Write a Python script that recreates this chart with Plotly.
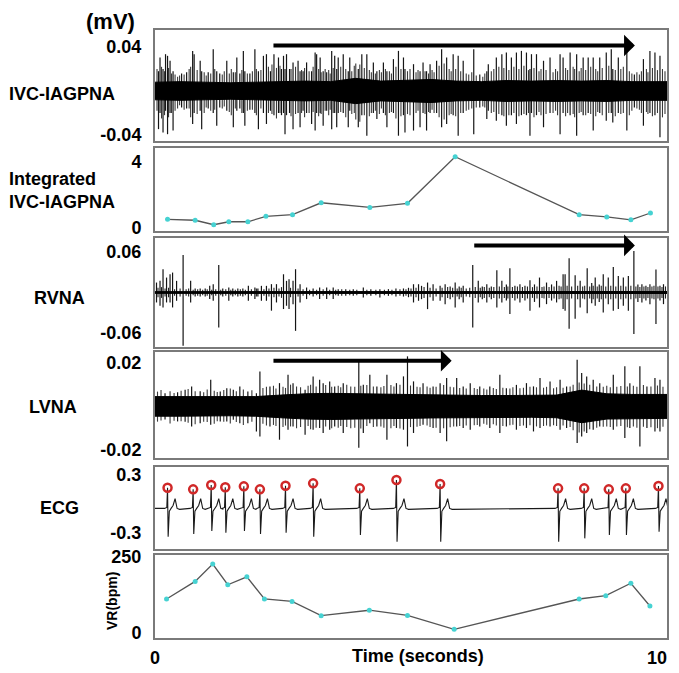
import plotly.graph_objects as go

W, H = 679, 673

# ---------------- data ----------------
# Integrated IVC-IAGPNA
integ_t = [0.25, 0.80, 1.17, 1.47, 1.85, 2.21, 2.74, 3.31, 4.28, 5.03, 5.98, 8.45, 9.00, 9.48, 9.87]
integ_v = [0.53, 0.47, 0.20, 0.38, 0.38, 0.71, 0.81, 1.53, 1.25, 1.50, 4.32, 0.81, 0.67, 0.50, 0.91]

# Ventricular rate
vr_t = [0.23, 0.80, 1.15, 1.45, 1.83, 2.18, 2.73, 3.31, 4.27, 5.03, 5.96, 8.45, 8.98, 9.48, 9.86]
vr_v = [112, 170, 227, 159, 185, 112, 104, 57, 75, 58, 12, 112, 123, 164, 89]

# ECG beats
ecg_beat_t = [0.25, 0.76, 1.12, 1.40, 1.77, 2.09, 2.60, 3.15, 4.08, 4.81, 5.68, 8.03, 8.55, 9.04, 9.38, 10.03]
ecg_r = [0.169, 0.152, 0.197, 0.173, 0.183, 0.152, 0.189, 0.214, 0.162, 0.248, 0.207, 0.162, 0.162, 0.152, 0.162, 0.186]
ecg_s = [-0.338, -0.31, -0.279, -0.297, -0.279, -0.31, -0.297, -0.338, -0.32, -0.39, -0.39, -0.39, -0.355, -0.32, -0.32, -0.286]
ecg_baseline = -0.045
ecg_shape_dt = [-0.06, -0.015, 0.0, 0.012, 0.035, 0.07, 0.11, 0.15, 0.19, 0.24]
ecg_shape_dv = [0.0, 0.01, None, None, -0.03, 0.0, 0.03, 0.10, 0.0, -0.01]

# envelope sample times for the dense "core" of the nerve traces
core_t = [0.0, 0.5, 1.0, 1.5, 2.0, 2.5, 3.0, 3.5, 4.0, 4.5, 5.0, 5.5, 6.0, 6.5, 7.0, 7.5, 8.0, 8.5, 9.0, 9.5, 10.2]

# IVC-IAGPNA
ivc_core = [0.008, 0.0085, 0.008, 0.0075, 0.008, 0.0085, 0.009, 0.0085, 0.0115, 0.009, 0.010, 0.0105, 0.009,
            0.0085, 0.0095, 0.009, 0.0095, 0.009, 0.0095, 0.0085, 0.0085]
ivc_spike_t = [0.07, 0.10, 0.16, 0.21, 0.25, 0.30, 0.36, 0.53, 0.63, 0.75, 0.78, 0.90, 0.93, 1.06, 1.16, 1.23, 1.29,
               1.43, 1.56, 1.63, 1.69, 1.76, 1.79, 1.89, 1.99, 2.06, 2.16, 2.22, 2.30, 2.37, 2.46, 2.52, 2.56, 2.59,
               2.62, 2.68, 2.75, 2.85, 2.89, 2.95, 3.02, 3.12, 3.19, 3.22, 3.29, 3.35, 3.42, 3.52, 3.58, 3.62, 3.65,
               3.75, 3.85, 3.88, 4.05, 4.12, 4.22, 4.35, 4.42, 4.55, 4.62, 4.75, 4.85, 4.95, 4.98, 5.15, 5.28, 5.34,
               5.41, 5.48, 5.61, 5.71, 5.81, 5.94, 6.04, 6.14, 6.35, 6.47, 6.61, 6.64, 6.80, 6.91, 7.00, 7.10, 7.20,
               7.30, 7.40, 7.47, 7.50, 7.60, 7.74, 7.87, 8.07, 8.13, 8.27, 8.40, 8.53, 8.63, 8.73, 8.86, 8.99, 9.09,
               9.12, 9.23, 9.40, 9.55, 9.73, 9.86, 9.96, 10.06]
ivc_spike_hi = [0.018, 0.0305, 0.020, 0.0335, 0.032, 0.0275, 0.018, 0.016, 0.017, 0.0365, 0.0335, 0.0275, 0.018, 0.017,
                0.038, 0.018, 0.016, 0.0275, 0.017, 0.0305, 0.016, 0.0365, 0.018, 0.016, 0.038, 0.018, 0.032, 0.0335,
                0.018, 0.0335, 0.0305, 0.020, 0.032, 0.020, 0.0335, 0.020, 0.026, 0.0275, 0.018, 0.018, 0.026, 0.018,
                0.035, 0.0335, 0.0305, 0.018, 0.017, 0.0365, 0.032, 0.020, 0.0305,
                0.0335, 0.018, 0.0305, 0.020, 0.0335, 0.0335, 0.026, 0.018, 0.026, 0.018, 0.029, 0.0365, 0.0305, 0.020,
                0.0244, 0.018, 0.026, 0.018, 0.0244, 0.0275, 0.038, 0.0305, 0.0335, 0.032, 0.0275, 0.038, 0.015, 0.018,
                0.0244, 0.0305, 0.0335, 0.035, 0.0305, 0.035, 0.0365, 0.035, 0.020, 0.0335, 0.0335, 0.0275, 0.0305,
                0.0335, 0.0305, 0.035, 0.0335, 0.0305, 0.0305, 0.0305, 0.0305, 0.035, 0.038, 0.020, 0.0305, 0.0365,
                0.015, 0.029, 0.0365, 0.035, 0.032]
ivc_spike_lo = [-0.0347, -0.020, -0.0377, -0.018, -0.0393, -0.020, -0.036, -0.015, -0.016, -0.030, -0.020, -0.018,
                -0.0347, -0.016, -0.020, -0.0316, -0.015, -0.018, -0.033, -0.018, -0.016, -0.020, -0.0316, -0.017,
                -0.020, -0.0347, -0.020, -0.030, -0.018, -0.022, -0.020, -0.022, -0.020, -0.0393, -0.022, -0.020,
                -0.0347, -0.020, -0.033, -0.018, -0.020, -0.030, -0.036, -0.020, -0.020, -0.0316, -0.018, -0.0347,
                -0.020, -0.033, -0.020,
                -0.020, -0.033, -0.018, -0.033, -0.022, -0.0407, -0.020, -0.0255, -0.020, -0.033, -0.020, -0.0407,
                -0.022, -0.0377, -0.036, -0.033, -0.020, -0.036, -0.020, -0.020, -0.033, -0.030, -0.022, -0.0407,
                -0.020, -0.0393, -0.015, -0.0255, -0.018, -0.0271, -0.022, -0.0316, -0.022, -0.030, -0.022, -0.022,
                -0.0407, -0.020, -0.022, -0.033, -0.020, -0.0393, -0.020, -0.022, -0.0407, -0.022, -0.020, -0.036,
                -0.020, -0.0271, -0.020, -0.0286, -0.020, -0.036, -0.015, -0.0316, -0.020, -0.022, -0.042]
# medium IVC-IAGPNA deflections (time, up, down)
ivc_mid = [(0.04, .020, -.018), (0.13, .022, -.025), (0.19, .018, -.022), (0.27, .021, -.024), (0.33, .016, -.020),
           (0.40, .015, -.018), (0.45, .013, -.016), (0.49, .014, -.013), (0.58, .015, -.017), (0.68, .020, -.016),
           (0.71, .022, -.024), (0.84, .019, -.021), (0.98, .017, -.020), (1.02, .014, -.015), (1.11, .016, -.018),
           (1.19, .020, -.017), (1.34, .015, -.016), (1.38, .018, -.014), (1.48, .016, -.019), (1.52, .020, -.022),
           (1.60, .017, -.016), (1.73, .019, -.020), (1.84, .016, -.018), (1.94, .018, -.017), (2.02, .020, -.022),
           (2.11, .019, -.016), (2.26, .022, -.020), (2.33, .024, -.021), (2.42, .021, -.025), (2.49, .023, -.020),
           (2.71, .020, -.023), (2.80, .022, -.021), (2.92, .019, -.020), (2.98, .021, -.024), (3.07, .018, -.020),
           (3.15, .022, -.019), (3.26, .020, -.023), (3.31, .017, -.021), (3.39, .020, -.018), (3.46, .019, -.022),
           (3.49, .016, -.017), (3.55, .021, -.020), (3.70, .022, -.019), (3.80, .020, -.024), (3.92, .018, -.021),
           (3.97, .023, -.020), (4.00, .025, -.026), (4.08, .024, -.028), (4.17, .021, -.022), (4.27, .019, -.023),
           (4.31, .017, -.020), (4.39, .016, -.018), (4.47, .019, -.021), (4.51, .017, -.016), (4.59, .020, -.022),
           (4.67, .018, -.020), (4.71, .016, -.019), (4.80, .022, -.025), (4.90, .020, -.023), (5.03, .018, -.021),
           (5.08, .020, -.022), (5.20, .017, -.020), (5.24, .019, -.018), (5.38, .018, -.021), (5.45, .016, -.019),
           (5.52, .019, -.017), (5.56, .017, -.020), (5.66, .023, -.024), (5.76, .025, -.026), (5.86, .020, -.022),
           (5.90, .018, -.021), (5.99, .020, -.023), (6.09, .018, -.020), (6.20, .016, -.018), (6.25, .015, -.017),
           (6.31, .017, -.016), (6.40, .014, -.015), (6.53, .013, -.014), (6.57, .016, -.015), (6.70, .018, -.020),
           (6.75, .020, -.019), (6.85, .022, -.021), (6.95, .021, -.023), (7.05, .019, -.022), (7.15, .022, -.020),
           (7.25, .020, -.023), (7.35, .023, -.021), (7.44, .019, -.020), (7.55, .021, -.024), (7.65, .018, -.019),
           (7.69, .020, -.022), (7.79, .019, -.021), (7.93, .017, -.020), (7.98, .020, -.018), (8.02, .018, -.022),
           (8.18, .021, -.023), (8.22, .019, -.020), (8.33, .022, -.021), (8.36, .020, -.024), (8.45, .018, -.020),
           (8.49, .021, -.019), (8.58, .019, -.022), (8.68, .022, -.021), (8.78, .020, -.023), (8.82, .018, -.019),
           (8.91, .021, -.022), (9.04, .023, -.020), (9.17, .019, -.023), (9.28, .020, -.021), (9.33, .022, -.020),
           (9.45, .018, -.022), (9.50, .016, -.018), (9.60, .017, -.016), (9.65, .015, -.017), (9.69, .018, -.020),
           (9.79, .020, -.019), (9.82, .017, -.021), (9.91, .021, -.023), (10.01, .019, -.020), (10.11, .020, -.024),
           (10.16, .018, -.021)]

# RVNA
rvna_core = [0.0013, 0.0013, 0.0012, 0.0012, 0.0012, 0.0013, 0.0012, 0.0012, 0.0012, 0.0012, 0.0012,
             0.0013, 0.0013, 0.0013, 0.0013, 0.0014, 0.0015, 0.0015, 0.0015, 0.0015, 0.0015]
rvna_spike_t = [0.03, 0.10, 0.16, 0.23, 0.30, 0.35, 0.43, 0.56, 0.71, 0.80, 0.90, 1.00, 1.09, 1.16, 1.27, 1.35, 1.47,
                1.55, 1.65, 1.75, 1.86, 1.99, 2.05, 2.12, 2.22, 2.32, 2.42, 2.56, 2.62, 2.67, 2.75, 2.80, 2.89, 3.02,
                3.15, 3.28, 3.42, 3.55, 3.65, 3.80, 3.95, 4.15, 4.30, 4.48, 4.65, 4.80, 4.95, 5.05, 5.15, 5.25, 5.31,
                5.43, 5.54, 5.68, 5.78, 5.88, 5.98, 6.06, 6.14, 6.33, 6.44, 6.52, 6.61, 6.70, 6.81, 6.91, 7.00, 7.07,
                7.17, 7.27, 7.37, 7.47, 7.56, 7.66, 7.80, 7.90, 8.00, 8.13, 8.17, 8.25, 8.37, 8.47, 8.61, 8.70, 8.77,
                8.85, 8.93, 9.03, 9.13, 9.23, 9.33, 9.43, 9.54, 9.62, 9.70, 9.78, 9.86, 9.98, 10.06, 10.13]
rvna_spike_hi = [0.0148, 0.0173, 0.0346, 0.0222, 0.0271, 0.0296, 0.0173, 0.0557, 0.0173, 0.006, 0.006, 0.006, 0.0099,
                 0.0124, 0.041, 0.006, 0.0074, 0.006, 0.006, 0.006, 0.0099, 0.0074, 0.006, 0.0099, 0.0099, 0.0124,
                 0.0124, 0.0271, 0.0173, 0.0197, 0.0173, 0.0346, 0.0124, 0.0074, 0.006, 0.0074, 0.0074, 0.0074, 0.005,
                 0.005, 0.005, 0.0074, 0.005, 0.0049, 0.005, 0.006, 0.006, 0.007, 0.0123, 0.0123, 0.0099, 0.0148,
                 0.0123, 0.0099, 0.0123, 0.009, 0.0148, 0.009, 0.0099, 0.041, 0.0173, 0.009, 0.0123, 0.009, 0.033,
                 0.0173, 0.012, 0.036, 0.010, 0.0123, 0.010, 0.0182, 0.012, 0.0222, 0.0148, 0.012, 0.0173, 0.0271,
                 0.0271, 0.0508, 0.0256, 0.0173, 0.036, 0.014, 0.0222, 0.012, 0.0271, 0.0222, 0.038, 0.0247, 0.0222,
                 0.0247, 0.0617, 0.012, 0.0123, 0.010, 0.0123, 0.034, 0.010, 0.0123]
rvna_spike_lo = [-0.0148, -0.0197, -0.0222, -0.0148, -0.0148, -0.0222, -0.0123, -0.079, -0.0148, -0.006, -0.006,
                 -0.006, -0.0098, -0.0123, -0.052, -0.006, -0.0123, -0.006, -0.006, -0.006, -0.0123, -0.0098, -0.006,
                 -0.0123, -0.0123, -0.027, -0.0148, -0.0246, -0.0197, -0.0246, -0.0173, -0.057, -0.0148, -0.0098,
                 -0.006, -0.0098, -0.0098, -0.0098, -0.005, -0.005, -0.005, -0.0074, -0.005, -0.0074, -0.005, -0.006,
                 -0.006, -0.007, -0.0148, -0.0123, -0.0099, -0.0247, -0.0123, -0.0123, -0.0173, -0.010, -0.0222,
                 -0.010, -0.0148, -0.052, -0.0148, -0.010, -0.0148, -0.010, -0.0222, -0.0148, -0.012, -0.032, -0.012,
                 -0.0148, -0.012, -0.0271, -0.014, -0.0222, -0.0173, -0.012, -0.0148, -0.0247, -0.0271, -0.054,
                 -0.039, -0.0222, -0.031, -0.016, -0.0197, -0.014, -0.0296, -0.0173, -0.0271, -0.0247, -0.0197,
                 -0.0271, -0.0617, -0.014, -0.0148, -0.012, -0.0173, -0.047, -0.012, -0.0173]
# small RVNA ticks along the baseline
rvna_small_t = [0.06, 0.13, 0.20, 0.27, 0.39, 0.50, 0.62, 0.67, 0.76, 0.85, 0.95, 1.04, 1.13, 1.21, 1.31, 1.41, 1.51,
                1.60, 1.70, 1.80, 1.92, 2.02, 2.17, 2.27, 2.37, 2.47, 2.52, 2.70, 2.85, 2.95, 3.08, 3.22, 3.35, 3.48,
                3.60, 3.72, 3.88, 4.02, 4.22, 4.40, 4.57, 4.72, 4.88, 5.00, 5.10, 5.20, 5.36, 5.48, 5.60, 5.72, 5.83,
                5.93, 6.02, 6.10, 6.20, 6.27, 6.38, 6.48, 6.56, 6.66, 6.75, 6.86, 6.96, 7.03, 7.12, 7.22, 7.32, 7.42,
                7.52, 7.61, 7.71, 7.75, 7.85, 7.95, 8.05, 8.09, 8.21, 8.30, 8.42, 8.52, 8.56, 8.66, 8.73, 8.81, 8.89,
                8.98, 9.08, 9.18, 9.28, 9.38, 9.48, 9.58, 9.66, 9.74, 9.82, 9.90, 9.94, 10.02, 10.10, 10.17]
rvna_small_a = [0.007, 0.008, 0.006, 0.007, 0.005, 0.006, 0.005, 0.006, 0.004, 0.005, 0.004, 0.005, 0.004, 0.005,
                0.004, 0.005, 0.004, 0.004, 0.005, 0.004, 0.005, 0.006, 0.005, 0.006, 0.007, 0.006, 0.008, 0.007,
                0.006, 0.005, 0.004, 0.004, 0.005, 0.004, 0.004, 0.005, 0.004, 0.004, 0.004, 0.004, 0.004, 0.004,
                0.005, 0.005, 0.006, 0.007, 0.008, 0.007, 0.006, 0.007, 0.008, 0.007, 0.006, 0.007, 0.006, 0.007,
                0.008, 0.007, 0.008, 0.007, 0.008, 0.009, 0.008, 0.009, 0.008, 0.009, 0.008, 0.009, 0.008, 0.009,
                0.008, 0.009, 0.008, 0.009, 0.010, 0.009, 0.010, 0.009, 0.010, 0.009, 0.010, 0.009, 0.010, 0.009,
                0.010, 0.009, 0.010, 0.009, 0.010, 0.009, 0.010, 0.009, 0.008, 0.009, 0.008, 0.009, 0.010, 0.009,
                0.008, 0.009]

# LVNA
lvna_core = [0.0045, 0.0045, 0.0045, 0.0043, 0.0045, 0.0052, 0.0058, 0.006, 0.0058, 0.0055, 0.0055, 0.0053, 0.0052,
             0.005, 0.005, 0.005, 0.0052, 0.0075, 0.0058, 0.0055, 0.0055]
lvna_spike_t = [0.20, 0.45, 0.60, 0.73, 0.90, 1.11, 1.30, 1.43, 1.56, 1.69, 1.85, 2.02, 2.09, 2.29, 2.48, 2.65, 2.75,
                2.99, 3.15, 3.28, 3.35, 3.48, 3.58, 3.75, 4.06, 4.15, 4.28, 4.42, 4.62, 4.81, 4.95, 5.03, 5.15, 5.34,
                5.54, 5.68, 5.81, 6.01, 6.14, 6.28, 6.47, 6.67, 6.87, 7.00, 7.20, 7.40, 7.54, 7.67, 7.87, 8.07, 8.20,
                8.41, 8.50, 8.60, 8.73, 8.86, 9.13, 9.36, 9.46, 9.66, 9.80, 9.96, 10.06]
lvna_spike_hi = [0.006, 0.0065, 0.0077, 0.0092, 0.007, 0.0122, 0.0069, 0.0084, 0.0077, 0.0092, 0.0069, 0.0061, 0.016,
                 0.0092, 0.0107, 0.0145, 0.0107, 0.0077, 0.0138, 0.0122, 0.0107, 0.0115, 0.0092, 0.0107, 0.0207,
                 0.0099, 0.0145, 0.0092, 0.0145, 0.0107, 0.0138, 0.023, 0.0115, 0.0107, 0.0092, 0.0107, 0.013, 0.013,
                 0.0092, 0.0107, 0.0092, 0.0092, 0.0145, 0.0084, 0.0099, 0.0107, 0.0092, 0.013, 0.0115, 0.0122,
                 0.0092, 0.0214, 0.0153, 0.0138, 0.0122, 0.0107, 0.0145, 0.0184, 0.0107, 0.0184, 0.0092, 0.013, 0.0122]
lvna_spike_lo = [-0.006, -0.0069, -0.007, -0.0092, -0.0077, -0.0084, -0.0069, -0.0069, -0.0061, -0.0077, -0.0077,
                 -0.0115, -0.0138, -0.0092, -0.0153, -0.0107, -0.0092, -0.013, -0.0107, -0.0099, -0.0122, -0.0107,
                 -0.0092, -0.0122, -0.019, -0.0122, -0.0077, -0.0092, -0.0153, -0.0099, -0.0107, -0.0184, -0.0122,
                 -0.0084, -0.0099, -0.0122, -0.016, -0.0092, -0.0099, -0.0107, -0.0092, -0.0099, -0.0122, -0.0092,
                 -0.0107, -0.0099, -0.0115, -0.0099, -0.0092, -0.0107, -0.0099, -0.0168, -0.0138, -0.0122, -0.0107,
                 -0.0092, -0.0107, -0.0145, -0.0099, -0.0184, -0.0099, -0.0115, -0.0115]
lvna_mid = [(0.05, .0068, -.0070), (0.12, .0075, -.0065), (0.30, .0070, -.0078), (0.38, .0062, -.0066),
            (0.52, .0072, -.0068), (0.66, .0080, -.0075), (0.80, .0070, -.0082), (0.97, .0065, -.0070),
            (1.04, .0078, -.0072), (1.18, .0072, -.0080), (1.24, .0066, -.0068), (1.37, .0075, -.0070),
            (1.50, .0082, -.0078), (1.62, .0070, -.0072), (1.76, .0078, -.0085), (1.93, .0074, -.0070),
            (2.15, .0085, -.0080), (2.22, .0090, -.0088), (2.36, .0095, -.0085), (2.41, .0082, -.0090),
            (2.55, .0090, -.0095), (2.60, .0085, -.0088), (2.70, .0100, -.0092), (2.82, .0092, -.0100),
            (2.90, .0088, -.0095), (3.05, .0095, -.0090), (3.10, .0100, -.0105), (3.21, .0092, -.0098),
            (3.40, .0098, -.0092), (3.52, .0090, -.0100), (3.65, .0095, -.0098), (3.70, .0088, -.0090),
            (3.82, .0100, -.0095), (3.90, .0092, -.0100), (3.98, .0090, -.0098), (4.10, .0095, -.0102),
            (4.22, .0098, -.0090), (4.35, .0092, -.0095), (4.50, .0088, -.0092), (4.56, .0094, -.0098),
            (4.70, .0098, -.0100), (4.76, .0092, -.0090), (4.88, .0100, -.0102), (5.09, .0096, -.0095),
            (5.22, .0090, -.0094), (5.28, .0088, -.0090), (5.42, .0092, -.0088), (5.48, .0086, -.0095),
            (5.60, .0090, -.0098), (5.75, .0098, -.0100), (5.88, .0090, -.0096), (5.95, .0088, -.0092),
            (6.07, .0085, -.0090), (6.20, .0082, -.0088), (6.36, .0085, -.0086), (6.42, .0080, -.0085),
            (6.55, .0082, -.0080), (6.61, .0078, -.0084), (6.74, .0085, -.0082), (6.80, .0080, -.0088),
            (6.93, .0086, -.0090), (7.07, .0082, -.0086), (7.13, .0088, -.0084), (7.27, .0084, -.0090),
            (7.34, .0086, -.0088), (7.47, .0090, -.0086), (7.60, .0088, -.0092), (7.74, .0086, -.0090),
            (7.80, .0090, -.0088), (7.94, .0084, -.0086), (8.00, .0088, -.0090), (8.13, .0086, -.0088),
            (8.27, .0092, -.0095), (8.33, .0100, -.0110), (8.45, .0110, -.0120), (8.55, .0105, -.0115),
            (8.66, .0100, -.0105), (8.80, .0092, -.0098), (8.93, .0090, -.0094), (9.00, .0095, -.0092),
            (9.07, .0088, -.0095), (9.20, .0090, -.0092), (9.28, .0094, -.0090), (9.41, .0092, -.0096),
            (9.53, .0095, -.0092), (9.60, .0090, -.0098), (9.73, .0098, -.0094), (9.88, .0092, -.0096),
            (10.01, .0096, -.0100), (10.12, .0090, -.0094)]

# arrows: (panel, start time, end time, level)
arrow_panel = [1, 3, 4]
arrow_start = [2.33, 6.33, 2.33]
arrow_end = [9.56, 9.56, 5.91]
arrow_level = [0.0414, 0.070, 0.021]

# y-axis ticks per panel
y_ranges = [[-0.0455, 0.0555], [-0.18, 4.85], [-0.081, 0.081], [-0.0237, 0.025], [-0.465, 0.383], [-16.5, 257]]
y_ticks = [[-0.04, 0.04], [0, 4], [-0.06, 0.06], [-0.02, 0.02], [-0.3, 0.3], [0, 250]]
y_ticktext = [["-0.04", "0.04"], ["0", "4"], ["-0.06", "0.06"], ["-0.02", "0.02"], ["-0.3", "0.3"], ["0", "250"]]
x_ticks = [0, 10]
x_ticktext = ["0", "10"]

# ---------------- layout geometry (pixels) ----------------
box_left, box_right = 155, 667
panel_px = [(30, 141), (148, 231), (238, 347), (352, 458), (467, 549), (555, 638)]
X_RANGE = [0, 10.2]

fig = go.Figure()


def ax(i):
    return ("x" if i == 1 else f"x{i}"), ("y" if i == 1 else f"y{i}")


def spikes(ts, his, los):
    xs, ys = [], []
    for t, h, l in zip(ts, his, los):
        xs += [t, t, None]
        ys += [l, h, None]
    return xs, ys


def band(ts, half):
    return ts + ts[::-1], half + [-v for v in half[::-1]]


def add_nerve(panel, core, spike_t, spike_hi, spike_lo, mid=None, mid_color="#3a3a3a"):
    xa, ya = ax(panel)
    if mid:
        mx, my = spikes([m[0] for m in mid], [m[1] for m in mid], [m[2] for m in mid])
        fig.add_trace(go.Scatter(x=mx, y=my, mode="lines", line=dict(color=mid_color, width=1.1),
                                 xaxis=xa, yaxis=ya, hoverinfo="skip"))
    sx, sy = spikes(spike_t, spike_hi, spike_lo)
    fig.add_trace(go.Scatter(x=sx, y=sy, mode="lines", line=dict(color="#151515", width=1.2),
                             xaxis=xa, yaxis=ya, hoverinfo="skip"))
    bx, by = band(core_t, core)
    fig.add_trace(go.Scatter(x=bx, y=by, fill="toself", fillcolor="black", line=dict(color="black", width=1),
                             mode="lines", xaxis=xa, yaxis=ya, hoverinfo="skip"))


add_nerve(1, ivc_core, ivc_spike_t, ivc_spike_hi, ivc_spike_lo, ivc_mid)

# Panel 2: Integrated
xa, ya = ax(2)
fig.add_trace(go.Scatter(x=integ_t, y=integ_v, mode="lines+markers", line=dict(color="#555555", width=1.3),
                         marker=dict(color="#46d2d2", size=5), xaxis=xa, yaxis=ya))

add_nerve(3, rvna_core, rvna_spike_t, rvna_spike_hi, rvna_spike_lo,
          [(t, a, -a) for t, a in zip(rvna_small_t, rvna_small_a)], mid_color="#222222")
add_nerve(4, lvna_core, lvna_spike_t, lvna_spike_hi, lvna_spike_lo, lvna_mid)

# Panel 5: ECG
xa, ya = ax(5)
ex, ey = [0.0], [ecg_baseline]
for t, r, s in zip(ecg_beat_t, ecg_r, ecg_s):
    for dt, dv in zip(ecg_shape_dt, ecg_shape_dv):
        if dt == 0.0:
            val = r
        elif dv is None:
            val = s
        else:
            val = ecg_baseline + dv
        ex.append(t + dt)
        ey.append(val)
ex.append(X_RANGE[1])
ey.append(ecg_baseline)
fig.add_trace(go.Scatter(x=ex, y=ey, mode="lines", line=dict(color="#1a1a1a", width=1.1), xaxis=xa, yaxis=ya))
fig.add_trace(go.Scatter(x=ecg_beat_t, y=ecg_r, mode="markers",
                         marker=dict(symbol="circle-open", color="#d02828", size=8, line=dict(width=2.5)),
                         xaxis=xa, yaxis=ya))

# Panel 6: VR
xa, ya = ax(6)
fig.add_trace(go.Scatter(x=vr_t, y=vr_v, mode="lines+markers", line=dict(color="#555555", width=1.3),
                         marker=dict(color="#46d2d2", size=5), xaxis=xa, yaxis=ya))

FONT = "Liberation Sans, Arial, sans-serif"
layout = dict(width=W, height=H, margin=dict(l=0, r=0, t=0, b=0, autoexpand=False), showlegend=False,
              plot_bgcolor="white", paper_bgcolor="white")
for i in range(1, 7):
    top, bot = panel_px[i - 1]
    xk = "xaxis" if i == 1 else f"xaxis{i}"
    yk = "yaxis" if i == 1 else f"yaxis{i}"
    xa_, ya_ = ax(i)
    layout[xk] = dict(domain=[box_left / W, box_right / W], range=X_RANGE, anchor=ya_,
                      showline=True, mirror=True, linecolor="#7a7a7a", linewidth=2,
                      showgrid=False, zeroline=False, ticks="",
                      showticklabels=(i == 6), tickvals=x_ticks,
                      ticktext=[f"<b>{t}</b>" for t in x_ticktext],
                      tickfont=dict(family=FONT, size=18, color="black"), ticklabelstandoff=2)
    layout[yk] = dict(domain=[1 - bot / H, 1 - top / H], range=y_ranges[i - 1], anchor=xa_,
                      showline=True, mirror=True, linecolor="#7a7a7a", linewidth=2,
                      showgrid=False, zeroline=False, ticks="",
                      tickvals=y_ticks[i - 1], ticktext=[f"<b>{t}</b>" for t in y_ticktext[i - 1]],
                      tickfont=dict(family=FONT, size=18, color="black"), ticklabelstandoff=8)
fig.update_layout(**layout)

# arrows
for p, a0, a1, lv in zip(arrow_panel, arrow_start, arrow_end, arrow_level):
    xa, ya = ax(p)
    fig.add_annotation(x=a1, y=lv, ax=a0, ay=lv, xref=xa, yref=ya, axref=xa, ayref=ya, text="",
                       showarrow=True, arrowhead=1, arrowsize=0.9, arrowwidth=4, arrowcolor="black")


def label(text, px, py, size=18, xanchor="center", angle=0):
    fig.add_annotation(text=f"<b>{text}</b>", x=px / W, y=1 - py / H, xref="paper", yref="paper",
                       showarrow=False, xanchor=xanchor, yanchor="middle", textangle=angle, align="left",
                       font=dict(family=FONT, size=size, color="black"))


label("(mV)", 110, 22, size=22)
label("IVC-IAGPNA", 7, 94, xanchor="left")
label("Integrated<br>IVC-IAGPNA", 7, 190, xanchor="left")
label("RVNA", 32, 298, xanchor="left")
label("LVNA", 27, 407, xanchor="left")
label("ECG", 38, 508, xanchor="left")
label("VR(bpm)", 112, 601, size=14, angle=-90)
label("Time (seconds)", 418, 656)

fig.write_html("out.html", config={"displayModeBar": False},
               post_script="document.body.style.margin='0px';document.body.style.overflow='hidden';")
